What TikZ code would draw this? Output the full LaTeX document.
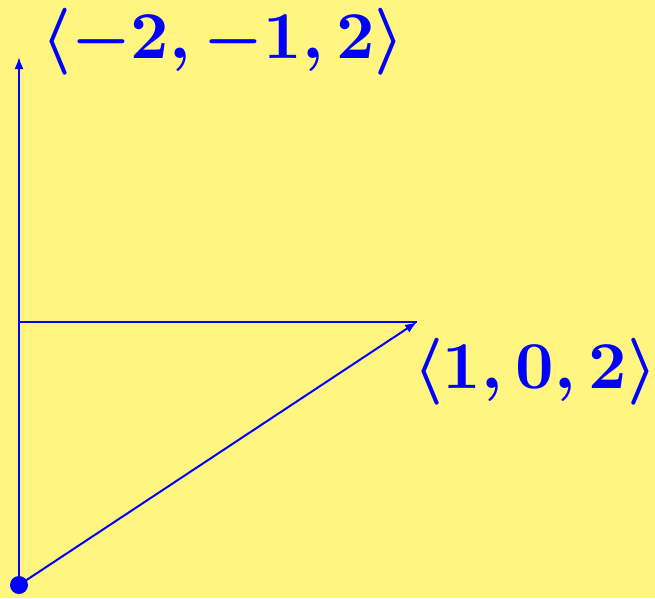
\documentclass[tikz,border=0pt]{standalone}
\usepackage{amsmath}
\definecolor{bgyellow}{RGB}{255,245,128}
\tikzset{
  vec/.style={blue, line width=2pt, -{Latex[length=12pt,width=9pt]}},
  lbl/.style={text=blue, scale=6.7, inner sep=0pt},
}
\usetikzlibrary{arrows.meta}
\begin{document}
\begin{tikzpicture}[x=1pt,y=-1pt]
\fill[bgyellow] (0,0) rectangle (655,598);
\useasboundingbox (0,0) rectangle (655,598);
\coordinate (O) at (19,585);
\coordinate (A) at (19,57);
\coordinate (B) at (417,322);
\coordinate (H) at (19,322);
\draw[blue, line width=2pt] (H) -- (B);
\draw[vec] (O) -- (A);
\draw[vec] (O) -- (B);
\fill[blue] (O) circle (9);
\node[lbl] (la) at (223,42) {$\boldsymbol{\langle -2,-1,2\rangle}$};
\node[lbl] (lb) at (535,372) {$\boldsymbol{\langle 1,0,2\rangle}$};
\end{tikzpicture}
\end{document}
